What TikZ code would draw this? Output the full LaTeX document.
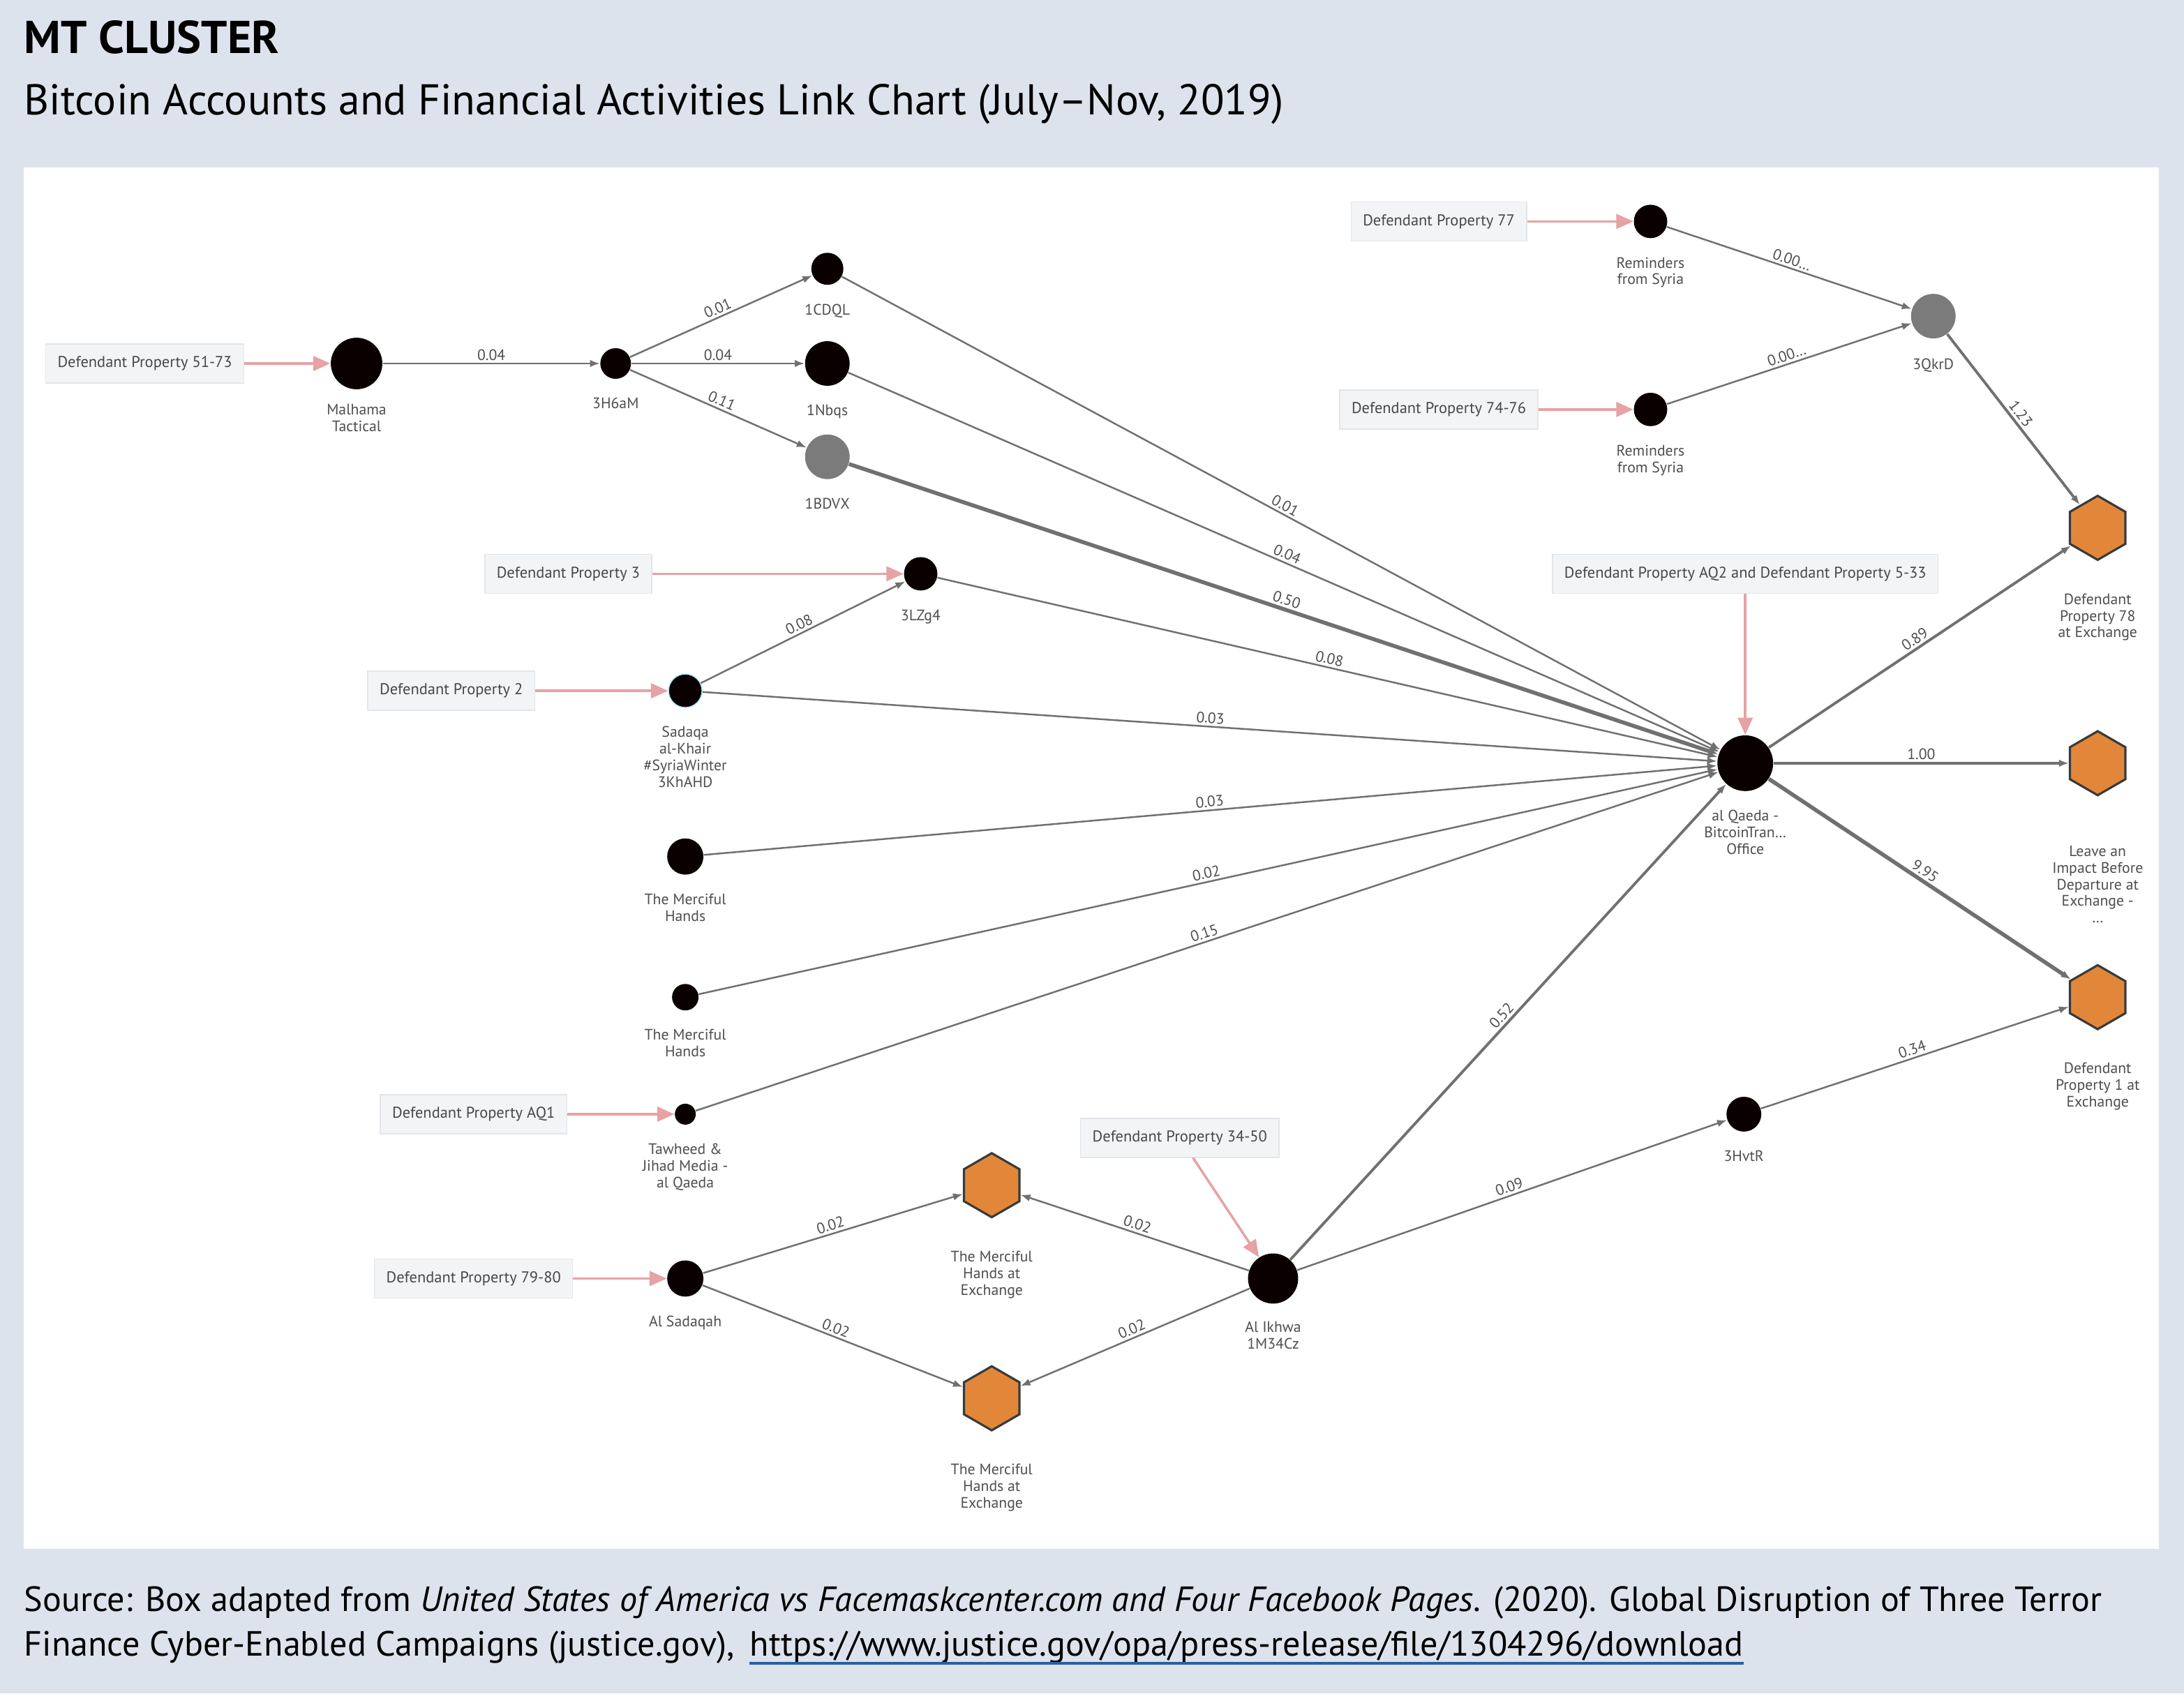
\documentclass[tikz,border=0pt]{standalone}
\usepackage{fontspec}
\setmainfont{PT Sans}
\usetikzlibrary{arrows.meta,positioning,shapes.geometric}
\definecolor{pagebg}{HTML}{DDE3EC}
\definecolor{edgegray}{HTML}{707070}
\definecolor{labelgray}{HTML}{4E4E4E}
\definecolor{exorange}{HTML}{E2873A}
\definecolor{hexedge}{HTML}{3A3A3A}
\definecolor{pinkline}{HTML}{E6A2A5}
\definecolor{boxfill}{HTML}{F3F4F6}
\definecolor{boxline}{HTML}{E2E5E9}
\definecolor{linkblue}{HTML}{2A5FA0}
\definecolor{nodegray}{HTML}{7B7B7B}
\tikzset{
    lbl/.style = {
        font=\fontsize{6.2}{6.8}\selectfont,
        text=labelgray,
        align=center,
        inner sep=0pt,
        yshift=-0.26cm,
        },
    lbl hex/.style = {
        lbl,
        yshift=-0.2cm,
        },
    account/.style = {
        circle,
        fill=black!96!red,
        inner sep=0pt,
        },
    account grey/.style = {
        account,
        fill=nodegray,
        },
    exchange/.style = {
        regular polygon,
        regular polygon sides=6,
        shape border rotate=30,
        minimum size=0.92cm,
        inner sep=0pt,
        fill=exorange,
        draw=hexedge,
        line width=0.9pt,
        },
    evidence/.style = {
        rectangle,
        fill=boxfill,
        draw=boxline,
        line width=0.4pt,
        minimum height=0.56cm,
        inner xsep=0.17cm,
        font=\fontsize{6.4}{7.5}\selectfont,
        text=black!72,
        },
}

\begin{document}
\begin{tikzpicture}[
            x=0.02cm, y=-0.02cm,
            Flow/.style={draw=edgegray, line width=0.7pt, -{Latex[length=4pt, width=3pt]}},
            FlowThick/.style={Flow, line width=1.1pt},
            FlowHeavy/.style={Flow, line width=1.6pt},
            Seized/.style={draw=pinkline, line width=1pt, -{Triangle[length=7pt, width=6pt]}},
            Weight/.style={sloped, above, midway, inner sep=1pt, font=\fontsize{6.2}{7}\selectfont, text=labelgray},
            Caption/.style={anchor=base west, inner sep=0pt, font=\fontsize{14.3}{17}\selectfont}
            ]
            \fill[pagebg] (0,0) rectangle (1568,1216);
            \fill[white] (17,120) rectangle (1550,1112);

            \node[anchor=west, inner sep=0pt, font=\bfseries\fontsize{18.8}{22}\selectfont] (title) at (17,27) {MT CLUSTER};
            \node[anchor=west, inner sep=0pt, font=\fontsize{17.6}{21}\selectfont] (subtitle) at (17,75) {Bitcoin Accounts and Financial Activities Link Chart (July--Nov, 2019)};

            % seized property
            \node[evidence] (dp5173) at (104,261) {Defendant Property 51-73};
            \node[evidence] (dp77) at (1033,159) {Defendant Property 77};
            \node[evidence] (dp7476) at (1033,294) {Defendant Property 74-76};
            \node[evidence] (dp3) at (408,412) {Defendant Property 3};
            \node[evidence] (dp2) at (324,496) {Defendant Property 2};
            \node[evidence] (dpaq2) at (1253,412) {Defendant Property AQ2 and Defendant Property 5-33};
            \node[evidence] (dpaq1) at (340,800) {Defendant Property AQ1};
            \node[evidence] (dp3450) at (847,817) {Defendant Property 34-50};
            \node[evidence] (dp7980) at (340,918) {Defendant Property 79-80};

            % accounts
            \node[account, minimum size=0.74cm, label={[lbl, yshift=0.06cm]below:{Malhama\\Tactical}}] (malhama) at (256,261) {};
            \node[account, minimum size=0.44cm, label={[lbl]below:3H6aM}] (h6am) at (442,261) {};
            \node[account, minimum size=0.46cm, label={[lbl]below:1CDQL}] (cdql) at (594,193) {};
            \node[account, minimum size=0.64cm, label={[lbl]below:1Nbqs}] (nbqs) at (594,261) {};
            \node[account grey, minimum size=0.64cm, label={[lbl]below:1BDVX}] (bdvx) at (594,328) {};
            \node[account, minimum size=0.48cm, label={[lbl]below:3LZg4}] (lzg4) at (661,412) {};
            \node[account, minimum size=0.48cm, draw=cyan!35, line width=0.4pt, label={[lbl]below:{Sadaqa\\al-Khair\\\#SyriaWinter\\3KhAHD}}] (sadaqa) at (492,496) {};
            \node[account, minimum size=0.52cm, label={[lbl]below:{The Merciful\\Hands}}] (merciful1) at (492,615) {};
            \node[account, minimum size=0.38cm, label={[lbl]below:{The Merciful\\Hands}}] (merciful2) at (492,716) {};
            \node[account, minimum size=0.30cm, label={[lbl]below:{Tawheed \&\\Jihad Media -\\al Qaeda}}] (tawheed) at (492,800) {};
            \node[account, minimum size=0.52cm, label={[lbl]below:Al Sadaqah}] (alsadaqah) at (492,918) {};
            \node[account, minimum size=0.72cm, label={[lbl, yshift=0.02cm]below:{Al Ikhwa\\1M34Cz}}] (alikhwa) at (914,918) {};
            \node[account, minimum size=0.50cm, label={[lbl]below:3HvtR}] (hvtr) at (1252,800) {};
            \node[account, minimum size=0.80cm, label={[lbl]below:{al Qaeda -\\BitcoinTran\ldots\\Office}}] (alqaeda) at (1253,548) {};
            \node[account, minimum size=0.48cm, label={[lbl]below:{Reminders\\from Syria}}] (remind1) at (1185,159) {};
            \node[account, minimum size=0.48cm, label={[lbl]below:{Reminders\\from Syria}}] (remind2) at (1185,294) {};
            \node[account grey, minimum size=0.64cm, label={[lbl, yshift=-0.02cm]below:3QkrD}] (qkrd) at (1388,227) {};

            % exchanges
            \node[exchange, label={[lbl hex]below:{Defendant\\Property 78\\at Exchange}}] (ex78) at (1506,379) {};
            \node[exchange, label={[lbl hex, yshift=-0.24cm]below:{Leave an\\Impact Before\\Departure at\\Exchange -\\\ldots}}] (exleave) at (1506,548) {};
            \node[exchange, label={[lbl hex]below:{Defendant\\Property 1 at\\Exchange}}] (ex1) at (1506,716) {};
            \node[exchange, label={[lbl hex]below:{The Merciful\\Hands at\\Exchange}}] (mhex1) at (712,851) {};
            \node[exchange, label={[lbl hex]below:{The Merciful\\Hands at\\Exchange}}] (mhex2) at (712,1004) {};

            \draw[Seized] (dp5173) -- (malhama);
            \draw[Seized] (dp77) -- (remind1);
            \draw[Seized] (dp7476) -- (remind2);
            \draw[Seized] (dp3) -- (lzg4);
            \draw[Seized] (dp2) -- (sadaqa);
            \draw[Seized] (dpaq2) -- (alqaeda);
            \draw[Seized] (dpaq1) -- (tawheed);
            \draw[Seized] (dp3450) -- (alikhwa);
            \draw[Seized] (dp7980) -- (alsadaqah);

            \draw[Flow] (malhama) -- node[Weight] {0.04} (h6am);
            \draw[Flow] (h6am) -- node[Weight] {0.01} (cdql);
            \draw[Flow] (h6am) -- node[Weight] {0.04} (nbqs);
            \draw[Flow] (h6am) -- node[Weight] {0.11} (bdvx);
            \draw[Flow] (cdql) -- node[Weight] {0.01} (alqaeda);
            \draw[Flow] (nbqs) -- node[Weight] {0.04} (alqaeda);
            \draw[FlowHeavy] (bdvx) -- node[Weight] {0.50} (alqaeda);
            \draw[Flow] (lzg4) -- node[Weight] {0.08} (alqaeda);
            \draw[Flow] (sadaqa) -- node[Weight] {0.08} (lzg4);
            \draw[Flow] (sadaqa) -- node[Weight] {0.03} (alqaeda);
            \draw[Flow] (merciful1) -- node[Weight] {0.03} (alqaeda);
            \draw[Flow] (merciful2) -- node[Weight] {0.02} (alqaeda);
            \draw[Flow] (tawheed) -- node[Weight] {0.15} (alqaeda);
            \draw[FlowThick] (alikhwa) -- node[Weight] {0.52} (alqaeda);
            \draw[Flow] (alikhwa) -- node[Weight] {0.09} (hvtr);
            \draw[Flow] (hvtr) -- node[Weight] {0.34} (ex1);
            \draw[FlowThick] (alqaeda) -- node[Weight] {0.89} (ex78);
            \draw[FlowThick] (alqaeda) -- node[Weight] {1.00} (exleave);
            \draw[FlowHeavy] (alqaeda) -- node[Weight] {9.95} (ex1);
            \draw[Flow] (remind1) -- node[Weight] {0.00\ldots} (qkrd);
            \draw[Flow] (remind2) -- node[Weight] {0.00\ldots} (qkrd);
            \draw[FlowThick] (qkrd) -- node[Weight] {1.23} (ex78);
            \draw[Flow] (alsadaqah) -- node[Weight] {0.02} (mhex1);
            \draw[Flow] (alsadaqah) -- node[Weight] {0.02} (mhex2);
            \draw[Flow] (alikhwa) -- node[Weight] {0.02} (mhex1);
            \draw[Flow] (alikhwa) -- node[Weight] {0.02} (mhex2);

            \node[Caption] (source1) at (17,1157) {Source: Box adapted from \textit{United States of America vs Facemaskcenter.com and Four Facebook Pages}. (2020). Global Disruption of Three Terror};
            \node[Caption] (source2) at (17,1189) {Finance Cyber-Enabled Campaigns (justice.gov),};
            \node[Caption, right=6pt of source2.base east, anchor=base west] (link) {https://www.justice.gov/opa/press-release/file/1304296/download};
            \draw[linkblue, line width=1.3pt] ([yshift=-3pt]link.base west) -- ([yshift=-3pt]link.base east);
\end{tikzpicture}
\end{document}
